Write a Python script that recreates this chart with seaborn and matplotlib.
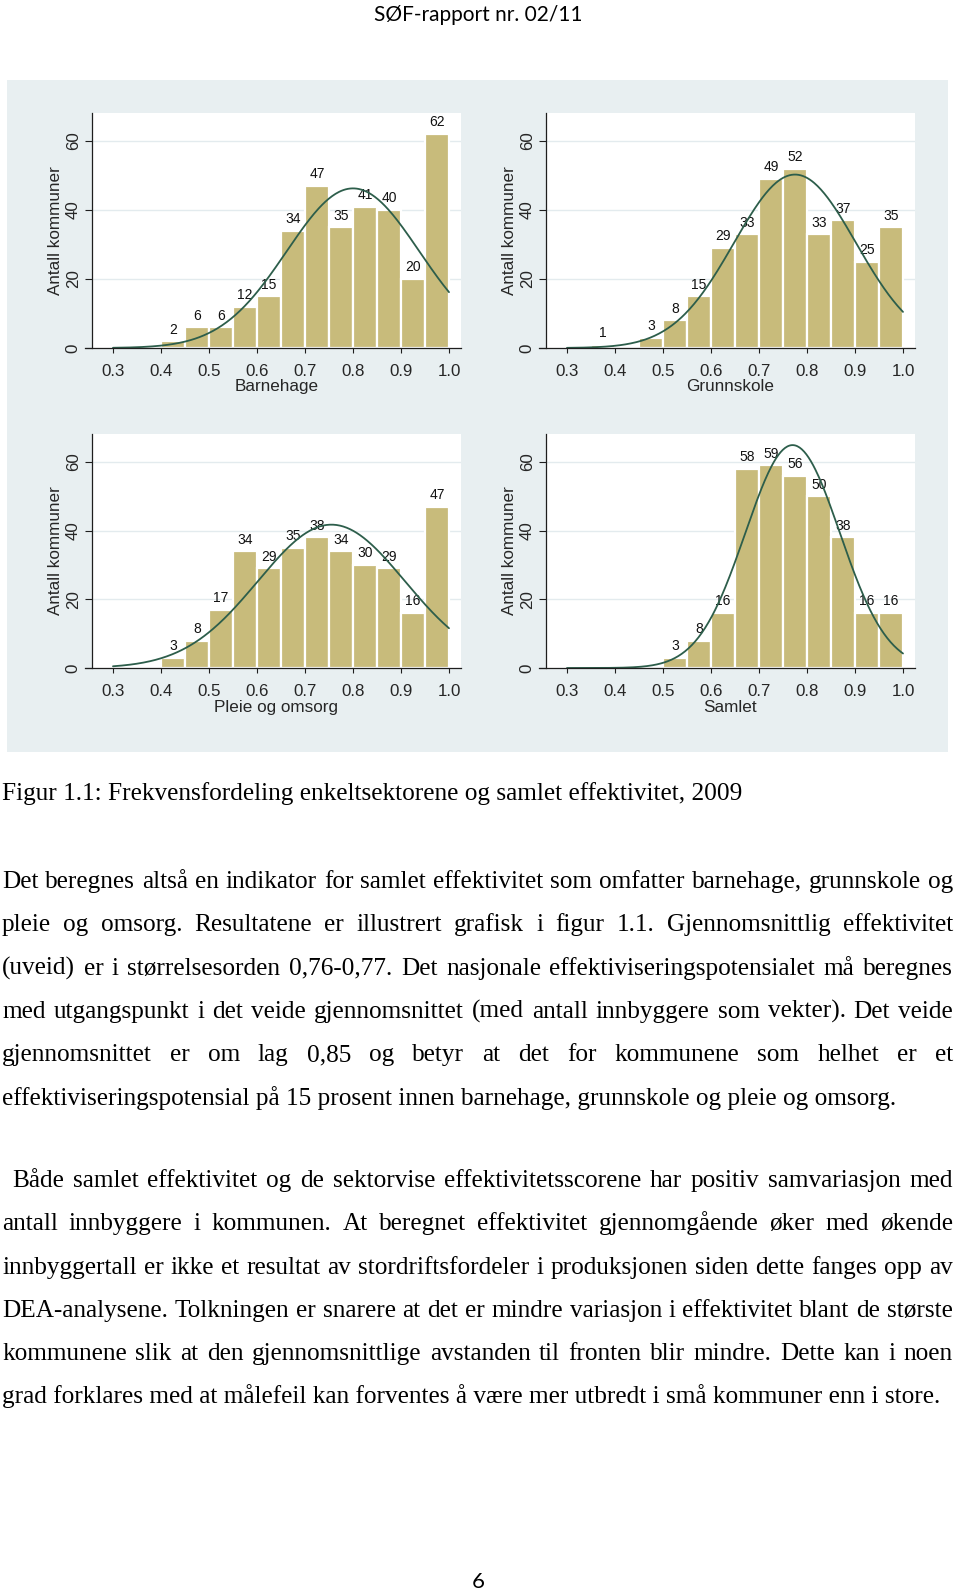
import numpy as np
import matplotlib
matplotlib.use("Agg")
import matplotlib.pyplot as plt
import seaborn as sns
from matplotlib.patches import Rectangle

# ---------------- data ----------------
panel_titles = ["Barnehage", "Grunnskole", "Pleie og omsorg", "Samlet"]
bin_edges = [0.30, 0.35, 0.40, 0.45, 0.50, 0.55, 0.60, 0.65, 0.70, 0.75, 0.80, 0.85, 0.90, 0.95, 1.00]
bin_centers = [0.325, 0.375, 0.425, 0.475, 0.525, 0.575, 0.625, 0.675, 0.725, 0.775, 0.825, 0.875, 0.925, 0.975]
counts_barnehage = [0, 0, 2, 6, 6, 12, 15, 34, 47, 35, 41, 40, 20, 62]
counts_grunnskole = [0, 1, 0, 3, 8, 15, 29, 33, 49, 52, 33, 37, 25, 35]
counts_pleie = [0, 0, 3, 8, 17, 34, 29, 35, 38, 34, 30, 29, 16, 47]
counts_samlet = [0, 0, 0, 0, 3, 8, 16, 58, 59, 56, 50, 38, 16, 16]
normal_mean = [0.800, 0.775, 0.755, 0.770]
normal_sd = [0.138, 0.127, 0.153, 0.0984]
x_ticks = [0.3, 0.4, 0.5, 0.6, 0.7, 0.8, 0.9, 1.0]
x_tick_labels = ["0.3", "0.4", "0.5", "0.6", "0.7", "0.8", "0.9", "1.0"]
y_ticks = [0, 20, 40, 60]
y_tick_labels = ["0", "20", "40", "60"]
y_title = "Antall kommuner"

header_text = "SØF-rapport nr. 02/11"
caption_text = "Figur 1.1: Frekvensfordeling enkeltsektorene og samlet effektivitet, 2009"
paragraph1 = [
    "Det beregnes altså en indikator for samlet effektivitet som omfatter barnehage, grunnskole og",
    "pleie og omsorg. Resultatene er illustrert grafisk i figur 1.1. Gjennomsnittlig effektivitet",
    "(uveid) er i størrelsesorden 0,76-0,77. Det nasjonale effektiviseringspotensialet må beregnes",
    "med utgangspunkt i det veide gjennomsnittet (med antall innbyggere som vekter). Det veide",
    "gjennomsnittet er om lag 0,85 og betyr at det for kommunene som helhet er et",
    "effektiviseringspotensial på 15 prosent innen barnehage, grunnskole og pleie og omsorg.",
]
paragraph2 = [
    "Både samlet effektivitet og de sektorvise effektivitetsscorene har positiv samvariasjon med",
    "antall innbyggere i kommunen. At beregnet effektivitet gjennomgående øker med økende",
    "innbyggertall er ikke et resultat av stordriftsfordeler i produksjonen siden dette fanges opp av",
    "DEA-analysene. Tolkningen er snarere at det er mindre variasjon i effektivitet blant de største",
    "kommunene slik at den gjennomsnittlige avstanden til fronten blir mindre. Dette kan i noen",
    "grad forklares med at målefeil kan forventes å være mer utbredt i små kommuner enn i store.",
]
page_number = "6"

all_counts = [counts_barnehage, counts_grunnskole, counts_pleie, counts_samlet]

# ---------------- style ----------------
sns.set_style("white")
plt.rcParams["font.family"] = ["Liberation Sans", "DejaVu Sans"]

W, H = 960, 1592
fig = plt.figure(figsize=(W / 100, H / 100), dpi=100)
fig.patch.set_facecolor("white")

bg = "#e8eff1"
bar_color = "#c8bb7b"
curve_color = "#2d5e4b"
grid_color = "#e3ebee"
axis_color = "#1e1e1e"

# grey graph region
fig.patches.append(Rectangle((7 / W, 1 - 752 / H), (948 - 7) / W, (752 - 80) / H,
                             transform=fig.transFigure, facecolor=bg, edgecolor="none", zorder=-5))

x_left, x_right = 0.2417, 1.025
y_axis_x = 0.25625
y_top = 68.1

boxes = [(85, 113, 348), (539, 113, 348), (85, 434, 668), (539, 434, 668)]
xlabel_y = [-0.134, -0.134, -0.136, -0.136]

for i, (lpx, tpx, bpx) in enumerate(boxes):
    ax = fig.add_axes([lpx / W, 1 - bpx / H, (461 - 85) / W, (bpx - tpx) / H])
    ax.set_zorder(2)
    ax.patch.set_alpha(0)
    ax.axvspan(y_axis_x, x_right, color="white", zorder=0, lw=0)
    ax.hlines(y_ticks[1:], y_axis_x, x_right, color=grid_color, lw=1.0, zorder=0.5)

    counts = all_counts[i]
    sns.histplot(x=bin_centers, weights=counts, bins=bin_edges, ax=ax,
                 color=bar_color, alpha=1, edgecolor="white", linewidth=1.6, zorder=1)
    cont = ax.containers[0]
    ax.bar_label(cont, labels=[str(c) if c else "" for c in counts],
                 padding=3.3, fontsize=10, color="#111111")

    n = sum(counts)
    xs = np.linspace(0.3, 1.0, 300)
    ys = n * 0.05 * np.exp(-0.5 * ((xs - normal_mean[i]) / normal_sd[i]) ** 2) / (normal_sd[i] * np.sqrt(2 * np.pi))
    sns.lineplot(x=xs, y=ys, ax=ax, color=curve_color, lw=1.3, zorder=3)

    ax.set_xlim(x_left, x_right)
    ax.set_ylim(0, y_top)
    for s in ["top", "right"]:
        ax.spines[s].set_visible(False)
    ax.spines["left"].set_position(("data", y_axis_x))
    for s in ["left", "bottom"]:
        ax.spines[s].set_color(axis_color)
        ax.spines[s].set_linewidth(0.9)
        ax.spines[s].set_zorder(4)

    ax.set_xticks(x_ticks)
    ax.set_xticklabels(x_tick_labels, fontsize=12.2)
    ax.set_yticks(y_ticks)
    ax.set_yticklabels(y_tick_labels, fontsize=12.2, rotation=90, va="center")
    ax.tick_params(axis="x", direction="out", length=3.6, width=0.8, color=axis_color, pad=7.8, bottom=True)
    ax.tick_params(axis="y", direction="out", length=5, width=0.8, color=axis_color, pad=3.0, left=True)

    ax.set_ylabel(y_title, fontsize=12.3)
    ax.yaxis.set_label_coords(-0.0598, 0.5)
    ax.set_xlabel(panel_titles[i], fontsize=12.3)
    ax.xaxis.set_label_coords(0.509, xlabel_y[i])
    ax.grid(False)

# ---------------- page text ----------------
renderer = fig.canvas.get_renderer()
serif = ["Liberation Serif", "DejaVu Serif"]
body_size = 18.2


def fy(ypx):
    return 1 - ypx / H


def draw_line(text, x0, x1, ypx, justify, size=body_size):
    if not justify:
        fig.text(x0 / W, fy(ypx), text, ha="left", va="baseline",
                 family=serif, fontsize=size, color="black")
        return
    words = text.split()
    objs = [fig.text(0, fy(ypx), w, ha="left", va="baseline", family=serif,
                     fontsize=size, color="black") for w in words]
    widths = [o.get_window_extent(renderer).width for o in objs]
    gap = (x1 - x0 - sum(widths)) / (len(words) - 1)
    x = x0
    for o, w in zip(objs, widths):
        o.set_position((x / W, fy(ypx)))
        x += w + gap


fig.text(478 / W, fy(21), header_text, ha="center", va="baseline",
         family=["Lato", "DejaVu Sans"], fontsize=15, color="black")

draw_line(caption_text, 2, 953, 800, False)

line_gap = 43.3
for k, line in enumerate(paragraph1):
    draw_line(line, 2, 953, 888 + k * line_gap, k < len(paragraph1) - 1)
for k, line in enumerate(paragraph2):
    x0 = 12 if k == 0 else 2
    draw_line(line, x0, 953, 1187 + k * line_gap, k < len(paragraph2) - 1)

fig.text(478 / W, fy(1582), page_number, ha="center", va="center",
         family=["Lato", "DejaVu Sans"], fontsize=16, color="black")

fig.savefig("out.png", dpi=100, facecolor="white")
